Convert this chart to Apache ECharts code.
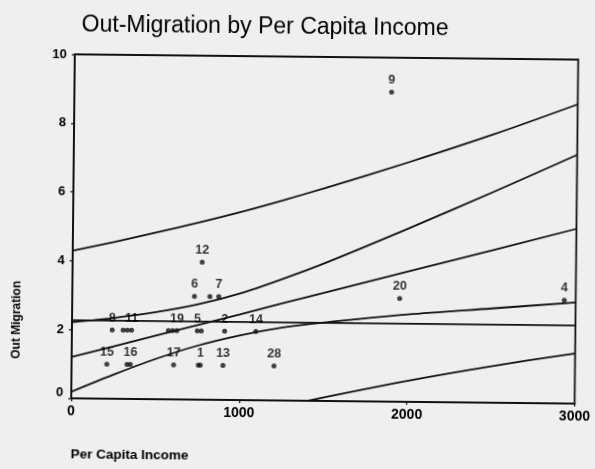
<!DOCTYPE html>
<html>
<head>
<meta charset="utf-8">
<script src="https://cdn.jsdelivr.net/npm/echarts@6/dist/echarts.min.js"></script>
<style>
  html, body { margin: 0; padding: 0; background: #efefef; }
  #chart {
    width: 595px; height: 469px;
    transform: rotate(0.6deg);
    transform-origin: 328px 229px;
  }
</style>
</head>
<body>
<div id="chart"></div>
<script>
// Observations: per capita income, out-migration and the point id shown above each dot
const income       = [240, 305, 330, 355, 575, 600, 625, 747, 771, 910, 1096,
                      210, 330, 350, 608, 755, 767, 902, 1206,
                      728, 820, 873, 772, 1890, 1951, 2932];
const outMigration = [2, 2, 2, 2, 2, 2, 2, 2, 2, 2, 2,
                      1, 1, 1, 1, 1, 1, 1, 1,
                      3, 3, 3, 4, 9, 3, 3];
const pointIds     = ['8', '', '', '11', '', '', '19', '5', '', '2', '14',
                      '15', '', '16', '17', '', '1', '13', '28',
                      '6', '', '7', '12', '9', '20', '4'];

// Fitted line, confidence band and prediction band, sampled along the income axis
const bandIncome = [0, 250, 500, 750, 1000, 1250, 1500, 2000, 2500, 3000];
const fitLine    = [1.20, 1.52, 1.85, 2.17, 2.49, 2.82, 3.14, 3.79, 4.43, 5.08];
const confUpper  = [2.21, 2.35, 2.53, 2.77, 3.10, 3.53, 4.00, 5.04, 6.12, 7.23];
const confLower  = [0.19, 0.70, 1.17, 1.57, 1.88, 2.12, 2.28, 2.54, 2.74, 2.94];
const predUpper  = [4.29, 4.56, 4.85, 5.15, 5.47, 5.82, 6.19, 6.97, 7.80, 8.70];
const predLower  = [-1.89, -1.52, -1.15, -0.81, -0.49, -0.18, 0.10, 0.61, 1.06, 1.46];

// Mean of out-migration, drawn as a flat reference line
const meanIncome = [0, 3000];
const meanOut    = [2.27, 2.27];

const xTicks = [0, 1000, 2000, 3000];
const yTicks = [0, 2, 4, 6, 8, 10];

const INK = '#111';
const FONT = '"Liberation Sans", Arial, sans-serif';

const pair = (xs, ys) => xs.map((x, i) => [x, ys[i]]);

function bandSeries(xs, ys, smooth) {
  return {
    type: 'line',
    data: pair(xs, ys),
    showSymbol: false,
    smooth: smooth ? 0.3 : false,
    silent: true,
    clip: true,
    lineStyle: { color: INK, width: 1.8 },
    z: 2
  };
}

const chart = echarts.init(document.getElementById('chart'), null, { renderer: 'canvas' });

chart.setOption({
  backgroundColor: '#efefef',
  animation: false,
  title: {
    text: 'Out-Migration by Per Capita Income',
    left: 258,
    top: 11,
    textAlign: 'center',
    textStyle: { fontFamily: FONT, fontSize: 23, fontWeight: 'normal', color: '#000' }
  },
  grid: {
    left: 73, right: 12, top: 57, bottom: 68,
    show: true, borderColor: INK, borderWidth: 1.8, backgroundColor: 'transparent'
  },
  xAxis: {
    type: 'value',
    min: xTicks[0], max: xTicks[xTicks.length - 1],
    interval: xTicks[1] - xTicks[0],
    splitLine: { show: false },
    axisLine: { show: true, lineStyle: { color: INK, width: 1.8 } },
    axisTick: { show: true, length: 3, lineStyle: { color: INK, width: 1.2 } },
    axisLabel: {
      margin: 6, color: '#000', fontFamily: FONT, fontSize: 14, fontWeight: 'bold',
      formatter: v => String(v)
    }
  },
  yAxis: {
    type: 'value',
    min: yTicks[0], max: yTicks[yTicks.length - 1],
    interval: yTicks[1] - yTicks[0],
    splitLine: { show: false },
    axisLine: { show: true, lineStyle: { color: INK, width: 1.8 } },
    axisTick: { show: true, length: 3, lineStyle: { color: INK, width: 1.2 } },
    axisLabel: {
      margin: 8, color: '#000', fontFamily: FONT, fontSize: 13, fontWeight: 'bold',
      formatter: v => (v === 0 ? '{low|0}' : String(v)),
      rich: {
        low: { fontFamily: FONT, fontSize: 13, fontWeight: 'bold', color: '#000', padding: [0, 0, 12, 0] }
      }
    }
  },
  graphic: [
    {
      type: 'text', x: 18, y: 323, rotation: Math.PI / 2,
      style: {
        text: 'Out Migration', fill: '#000',
        font: 'bold 12px ' + FONT, textAlign: 'center', textVerticalAlign: 'middle'
      }
    },
    {
      type: 'text', x: 73, y: 457,
      style: {
        text: 'Per Capita Income', fill: '#000',
        font: 'bold 13.5px ' + FONT, textAlign: 'left', textVerticalAlign: 'middle'
      }
    }
  ],
  series: [
    bandSeries(meanIncome, meanOut, false),
    bandSeries(bandIncome, fitLine, false),
    bandSeries(bandIncome, confUpper, true),
    bandSeries(bandIncome, confLower, true),
    bandSeries(bandIncome, predUpper, true),
    bandSeries(bandIncome, predLower, true),
    {
      type: 'scatter',
      data: income.map((x, i) => ({ value: [x, outMigration[i]], name: pointIds[i] })),
      symbol: 'circle',
      symbolSize: 5,
      itemStyle: { color: INK },
      z: 3,
      label: {
        show: true,
        position: 'top',
        distance: 3,
        formatter: p => p.name,
        color: '#000',
        fontFamily: FONT,
        fontSize: 12.5,
        fontWeight: 'bold',
        textBorderWidth: 0
      },
      labelLayout: { hideOverlap: false }
    }
  ]
});
</script>
</body>
</html>
